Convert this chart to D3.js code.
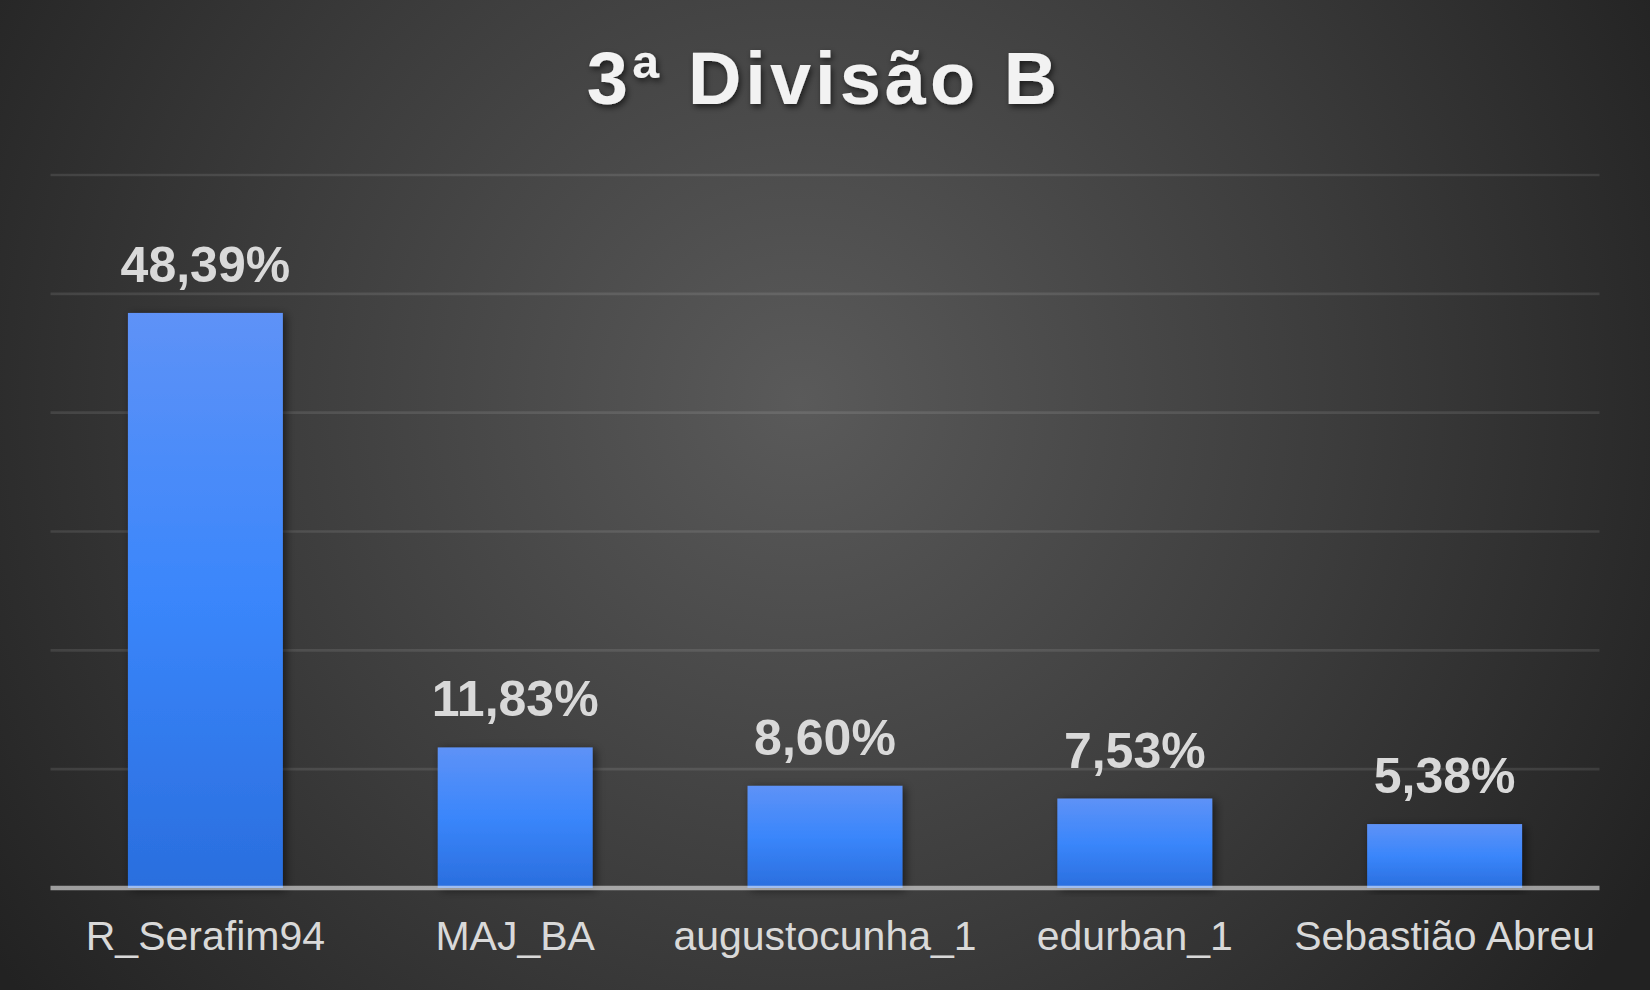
<!DOCTYPE html>
<html><head><meta charset="utf-8">
<script src="https://cdn.jsdelivr.net/npm/d3@7"></script>
<style>html,body{margin:0;padding:0;background:#2a2a2a;overflow:hidden}</style>
</head><body>
<svg id="chart" width="1650" height="990"></svg>
<script>
const title = "3ª Divisão B";
const categories = ["R_Serafim94", "MAJ_BA", "augustocunha_1", "edurban_1", "Sebastião Abreu"];
const values = [48.39, 11.83, 8.60, 7.53, 5.38];
const valueLabels = ["48,39%", "11,83%", "8,60%", "7,53%", "5,38%"];
const yTicks = [0, 10, 20, 30, 40, 50, 60];

const W = 1650, H = 990;
const svg = d3.select("#chart");
const defs = svg.append("defs");

const bg = defs.append("radialGradient").attr("id", "bg")
  .attr("gradientUnits", "userSpaceOnUse")
  .attr("cx", 800).attr("cy", 400).attr("r", 980);
bg.append("stop").attr("offset", "0").attr("stop-color", "#5a5a5a");
bg.append("stop").attr("offset", "0.55").attr("stop-color", "#3c3c3c");
bg.append("stop").attr("offset", "1").attr("stop-color", "#222222");

const bar = defs.append("linearGradient").attr("id", "barg")
  .attr("x1", 0).attr("y1", 0).attr("x2", 0).attr("y2", 1);
bar.append("stop").attr("offset", "0").attr("stop-color", "#5e92f7");
bar.append("stop").attr("offset", "0.5").attr("stop-color", "#3a86fb");
bar.append("stop").attr("offset", "1").attr("stop-color", "#2a6ede");

const ts = defs.append("filter").attr("id", "tshadow")
  .attr("x", "-10%").attr("y", "-30%").attr("width", "120%").attr("height", "160%");
ts.append("feDropShadow").attr("dx", 2).attr("dy", 3).attr("stdDeviation", 3)
  .attr("flood-color", "#000").attr("flood-opacity", 0.6);

const bs = defs.append("filter").attr("id", "bshadow")
  .attr("x", "-20%").attr("y", "-10%").attr("width", "140%").attr("height", "120%");
bs.append("feDropShadow").attr("dx", 3).attr("dy", 2).attr("stdDeviation", 5)
  .attr("flood-color", "#000").attr("flood-opacity", 0.55);

svg.append("rect").attr("width", W).attr("height", H).attr("fill", "url(#bg)");

const x = d3.scaleBand().domain(categories).range([50.5, 1599.5]).paddingInner(0.5).paddingOuter(0.25);
const y = d3.scaleLinear().domain([0, 60]).range([888, 175]);

// gridlines
svg.append("g").selectAll("line").data(yTicks.filter(t => t > 0)).join("line")
  .attr("x1", 50.5).attr("x2", 1599.5)
  .attr("y1", d => y(d)).attr("y2", d => y(d))
  .attr("stroke", "#ffffff").attr("stroke-opacity", 0.1).attr("stroke-width", 2.7);

// bars
svg.append("g").selectAll("rect").data(values).join("rect")
  .attr("x", (d, i) => x(categories[i]))
  .attr("width", x.bandwidth())
  .attr("y", d => y(d))
  .attr("height", d => y(0) - y(d))
  .attr("fill", "url(#barg)")
  .attr("filter", "url(#bshadow)");

// baseline
svg.append("line").attr("x1", 50.5).attr("x2", 1599.5).attr("y1", y(0)).attr("y2", y(0))
  .attr("stroke", "#ffffff").attr("stroke-opacity", 0.55).attr("stroke-width", 4.5);

// value labels
svg.append("g").selectAll("text").data(values).join("text")
  .attr("x", (d, i) => x(categories[i]) + x.bandwidth() / 2)
  .attr("y", d => y(d) - 31)
  .attr("text-anchor", "middle")
  .attr("font-family", "'Liberation Sans', Arial, sans-serif")
  .attr("font-weight", "bold").attr("font-size", 50)
  .attr("fill", "#d9d9d9")
  .text((d, i) => valueLabels[i]);

// category axis labels
const xAxis = d3.axisBottom(x).tickSize(0).tickPadding(0);
const gx = svg.append("g").attr("transform", `translate(0,${y(0)})`).call(xAxis);
gx.select(".domain").remove();
gx.selectAll("text")
  .attr("y", 62).attr("dy", null)
  .attr("font-family", "'Liberation Sans', Arial, sans-serif")
  .attr("font-size", 41).attr("fill", "#d9d9d9");

// title
svg.append("text").attr("x", 824).attr("y", 104)
  .attr("text-anchor", "middle")
  .attr("font-family", "'Liberation Sans', Arial, sans-serif")
  .attr("font-weight", "bold").attr("font-size", 74)
  .attr("letter-spacing", 4)
  .attr("fill", "#f2f2f2")
  .attr("filter", "url(#tshadow)")
  .text(title);
</script>
</body></html>
